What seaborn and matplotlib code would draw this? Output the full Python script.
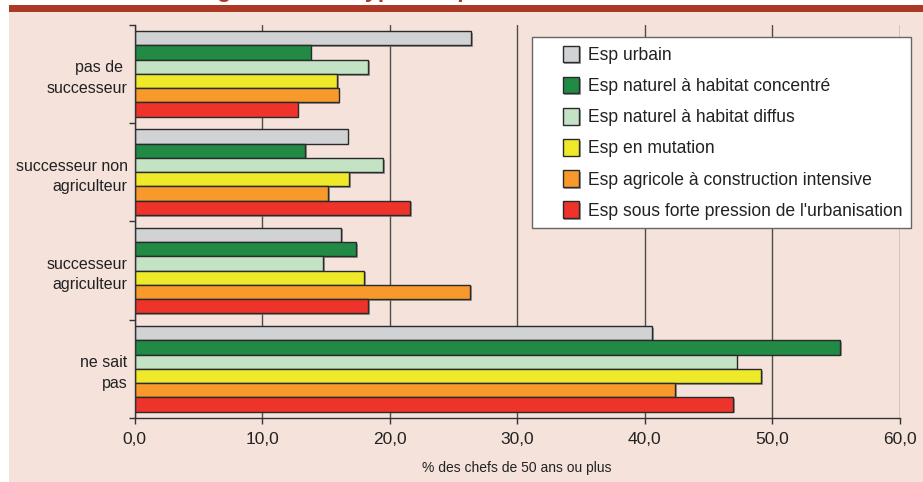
import pandas as pd
import matplotlib.pyplot as plt
import matplotlib.patheffects as pe
import seaborn as sns
from matplotlib.patches import Rectangle
from matplotlib.legend_handler import HandlerPatch

# Data
situations = ["pas de \nsuccesseur", "successeur non\nagriculteur",
              "successeur\nagriculteur", "ne sait\npas"]
espaces = ["Esp urbain", "Esp naturel à habitat concentré",
           "Esp naturel à habitat diffus", "Esp en mutation",
           "Esp agricole à construction intensive",
           "Esp sous forte pression de l'urbanisation"]
urbain = [26.4, 16.7, 16.2, 40.6]
naturel_concentre = [13.8, 13.4, 17.4, 55.3]
naturel_diffus = [18.3, 19.5, 14.8, 47.2]
mutation = [15.9, 16.8, 18.0, 49.1]
agricole = [16.0, 15.2, 26.3, 42.4]
pression = [12.8, 21.6, 18.3, 46.9]
couleurs = ["#D1D2D4", "#218A45", "#C4E3C4", "#EEEA2A", "#F8992C", "#EE332B"]

series = [urbain, naturel_concentre, naturel_diffus, mutation, agricole, pression]
rows = []
for esp, vals in zip(espaces, series):
    for sit, v in zip(situations, vals):
        rows.append({"situation": sit, "espace": esp, "valeur": v})
df = pd.DataFrame(rows)

sns.set_style("ticks")
plt.rcParams["font.family"] = ["Liberation Sans", "DejaVu Sans"]

W, H = 923, 482
fig = plt.figure(figsize=(W / 100, H / 100), dpi=100)
fig.patch.set_facecolor("white")

# background panel and title band (behind the axes)
fig.patches.append(Rectangle((9 / W, 0), 1, (H - 12) / H, transform=fig.transFigure,
                             facecolor="#F4E2DB", edgecolor="none", zorder=-10))
fig.patches.append(Rectangle((9 / W, 1 - 12 / H), 1, 7 / H, transform=fig.transFigure,
                             facecolor="#AC3926", edgecolor="none", zorder=-10))
fig.text(8 / W, 1 + 3.2 / H, "Succession envisagée selon le type d'espace", fontsize=16.8,
         fontweight="bold", color="#AC3926", va="baseline", ha="left", zorder=-5)

ax = fig.add_axes([134.5 / W, 1 - 418 / H, 765.5 / W, 393.3 / H])
ax.patch.set_alpha(0)

sns.barplot(data=df, x="valeur", y="situation", hue="espace", palette=couleurs,
            saturation=1, width=0.87, edgecolor="#2a2a2a", linewidth=1, ax=ax)

for bar in ax.patches:
    bar.set_path_effects([pe.SimplePatchShadow(offset=(1.2, -1.2), shadow_rgbFace="#777777", alpha=0.7),
                          pe.Normal()])

ax.set_xlim(0, 60)
ax.set_ylim(3.5, -0.5)
ax.set_xticks(range(0, 61, 10))
ax.set_xticklabels([f"{v:.1f}".replace(".", ",") for v in range(0, 61, 10)], fontsize=12.5)
ax.set_yticks(range(4))
ax.set_yticklabels(situations, fontsize=11.5)
for lab in ax.get_yticklabels():
    lab.set_multialignment("right")
    lab.set_linespacing(1.45)
ax.set_yticks([-0.5, 0.5, 1.5, 2.5, 3.5], minor=True)
ax.tick_params(axis="y", which="major", length=0, pad=5, colors="#222222")
ax.tick_params(axis="y", which="minor", length=4, width=1, color="#333333")
ax.tick_params(axis="x", length=4, width=1, color="#333333", pad=6, labelcolor="#222222")

ax.grid(axis="x", color="#4d4d4d", linewidth=1)
ax.set_axisbelow(True)
sns.despine(ax=ax, top=True, right=True)
for s in ["left", "bottom"]:
    ax.spines[s].set_color("#333333")
    ax.spines[s].set_linewidth(1)

ax.set_ylabel("")
ax.set_xlabel("% des chefs de 50 ans ou plus", fontsize=10, labelpad=10, color="#222222")


def square(legend, orig_handle, xdescent, ydescent, width, height, fontsize):
    return Rectangle((-xdescent + width - height, -ydescent), height, height)


handles, labels = ax.get_legend_handles_labels()
leg = ax.legend(handles, labels, loc="upper right",
                bbox_to_anchor=(911 / W, 1 - 37.3 / H), bbox_transform=fig.transFigure,
                borderaxespad=0, fontsize=12.65, frameon=True, fancybox=False,
                borderpad=0.48, handlelength=2.2, handleheight=1.08,
                handletextpad=0.5, labelspacing=0.73,
                handler_map={Rectangle: HandlerPatch(patch_func=square)})
leg.get_frame().set_facecolor("white")
leg.get_frame().set_edgecolor("#666666")
leg.get_frame().set_linewidth(1)
leg.get_frame().set_alpha(1)
for t in leg.get_texts():
    t.set_color("#222222")

plt.savefig("out.png", dpi=100)
plt.close()
